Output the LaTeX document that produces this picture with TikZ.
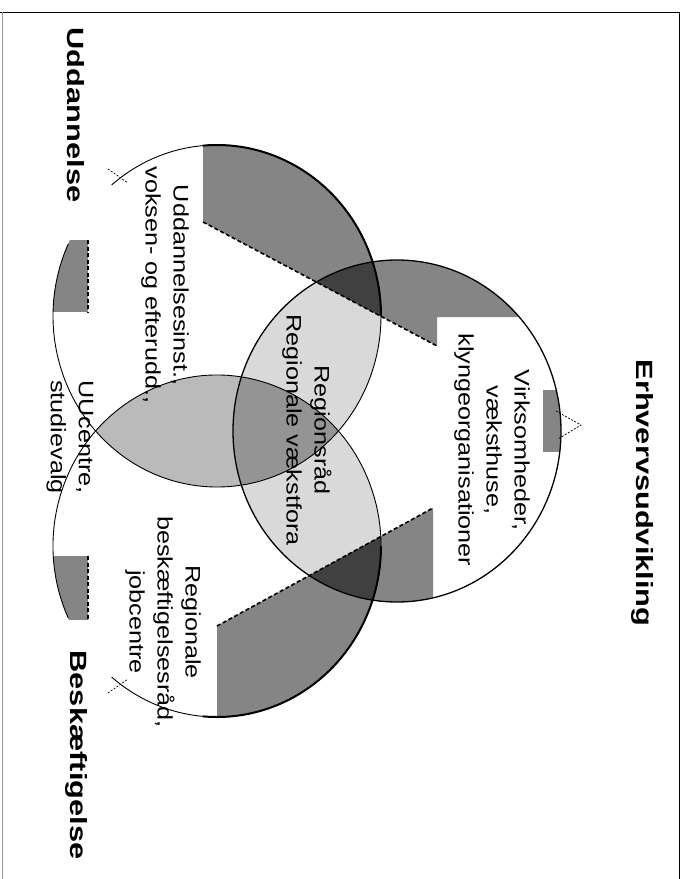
\documentclass[tikz,border=0pt]{standalone}
\usepackage{fontspec}
\setmainfont{Liberation Sans}
\usetikzlibrary{calc}

\begin{document}
\begin{tikzpicture}[x=1pt, y=-1pt,
    venn/.style={x radius=164, y radius=171},
    light fill/.style={fill=black!15},
    lens fill/.style={fill=black!27},
    core fill/.style={fill=black!42},
    band fill/.style={fill=black!48},
    dark fill/.style={fill=black!75},
    rim/.style={line width=0.9pt},
    thick rim/.style={line width=2pt},
    cut/.style={line width=1.6pt, dash pattern=on 4pt off 2.5pt},
    tick/.style={line width=0.7pt, dash pattern=on 2pt off 1.5pt},
    head text/.style={font=\fontsize{23.5}{28}\selectfont\bfseries, rotate=-90, xscale=1.31, transform shape},
    body text/.style={font=\fontsize{21}{28}\selectfont, align=center, rotate=-90, xscale=1.2, transform shape}]

    \useasboundingbox (0,0) rectangle (688,879);

    \coordinate (U) at (217,316);
    \coordinate (B) at (217,546);
    \coordinate (E) at (397,431);

    % overlaps
    \begin{scope}
        \clip (E) ellipse [venn];
        \clip (U) ellipse [venn];
        \fill[light fill] (0,0) rectangle (688,879);
    \end{scope}
    \begin{scope}
        \clip (E) ellipse [venn];
        \clip (B) ellipse [venn];
        \fill[light fill] (0,0) rectangle (688,879);
    \end{scope}
    \begin{scope}
        \clip (U) ellipse [venn];
        \clip (B) ellipse [venn];
        \fill[lens fill] (0,0) rectangle (688,879);
        \fill[core fill] (E) ellipse [venn];
    \end{scope}

    % shaded bands
    \coordinate (ut1) at (203,222);
    \coordinate (ut2) at (437,346);
    \coordinate (bt1) at (217,626);
    \coordinate (bt2) at (433,508);
    \begin{scope}
        \clip (203,100) -- (ut1) -- (ut2) -- (437,317) -- (620,317) -- (620,100) -- cycle;
        \fill[band fill] (U) ellipse [venn];
        \fill[band fill] (E) ellipse [venn];
        \clip (U) ellipse [venn];
        \fill[dark fill] (E) ellipse [venn];
    \end{scope}
    \begin{scope}
        \clip (bt1) -- (bt2) -- (433,800) -- (217,800) -- cycle;
        \fill[band fill] (B) ellipse [venn];
        \fill[band fill] (E) ellipse [venn];
        \clip (B) ellipse [venn];
        \fill[dark fill] (E) ellipse [venn];
    \end{scope}
    \begin{scope}
        \clip (U) ellipse [venn];
        \fill[band fill] (40,240) rectangle (88,312);
    \end{scope}
    \begin{scope}
        \clip (B) ellipse [venn];
        \fill[band fill] (40,556) rectangle (88,620);
    \end{scope}
    \begin{scope}
        \clip (E) ellipse [venn];
        \fill[band fill] (543,390) rectangle (570,452);
    \end{scope}

    % outlines
    \draw[line width=1.3pt] (E) ellipse [venn];
    \draw[rim] (U) ++(230:164 and 171) arc [start angle=230, end angle=565, venn];
    \draw[thick rim] (U) ++(265:164 and 171) arc [start angle=265, end angle=360, venn];
    \draw[rim] (B) ++(155:164 and 171) arc [start angle=155, end angle=490, venn];
    \draw[thick rim] (B) ++(0:164 and 171) arc [start angle=0, end angle=95, venn];

    % dashed edges
    \draw[cut] (ut1) -- (ut2);
    \draw[cut] (bt1) -- (bt2);
    \draw[cut, line width=1.1pt] (88,240) -- (88,312);
    \draw[cut, line width=1.1pt] (88,556) -- (88,620);
    \draw[tick] (108,169) -- (128,183);
    \draw[tick] (108,693) -- (128,679);
    \draw[tick] (556,411) -- (581,425) -- (558,439);

    % frame
    \draw[line width=0.8pt] (0,12) -- (679,12) -- (679,879);
    \draw[black!40, line width=0.6pt] (2,12) -- (2,879);

    % labels
    \node[head text] (uddannelse) at (76,115) {Uddannelse};
    \node[head text] (beskaeftigelse) at (77,755) {Beskæftigelse};
    \node[head text] (erhverv) at (643,493) {Erhvervsudvikling};

    \node[body text] (uddinst) at (165,285) {Uddannelsesinst.,\\voksen- og efterudd.,};
    \node[body text] (virksom) at (492,450) {Virksomheder,\\væksthuse,\\klyngeorganisationer};
    \node[body text] (region) at (307,430) {Regionsråd\\Regionale vækstfora};
    \node[body text] (uucentre) at (70,437) {UUcentre,\\studievalg};
    \node[body text] (jobcentre) at (163,622) {Regionale\\beskæftigelsesråd,\\jobcentre};
\end{tikzpicture}
\end{document}
